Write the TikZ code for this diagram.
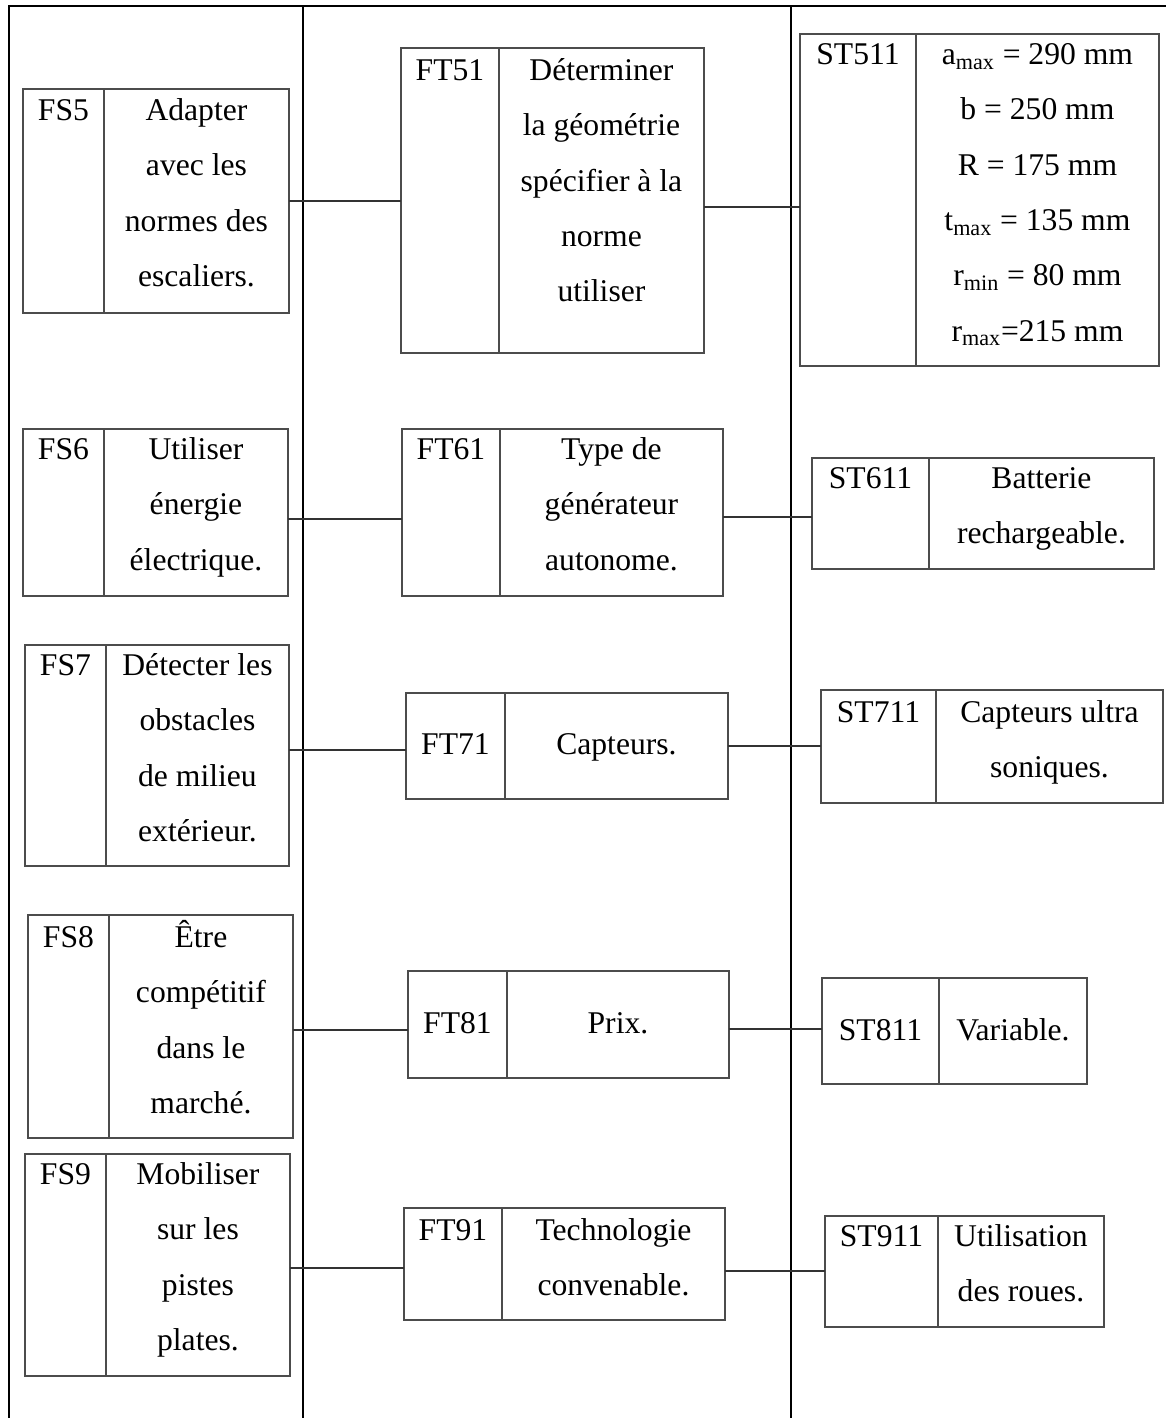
\documentclass[tikz,border=0pt]{standalone}
\usepackage{fontspec}
\setmainfont{Liberation Serif}
\usetikzlibrary{positioning}

\begin{document}
\begin{tikzpicture}[x=0.02cm,y=-0.02cm,
  cell/.style = {draw=black!70, line width=0.8pt, inner sep=0pt, outer sep=0pt},
  txt/.style = {anchor=north, align=center, inner sep=0pt,
    font=\fontsize{18}{31.5}\selectfont},
  frame/.style = {draw=black, line width=0.8pt},
  link/.style = {draw=black!80, line width=0.7pt}]
\useasboundingbox (0,0) rectangle (1166,1418);
% frame
\draw[frame,line width=1.2pt] (8,6) -- (1166,6);
\draw[frame,line width=1.2pt] (9,6) -- (9,1418);
\draw[frame] (303,7) -- (303,1418);
\draw[frame] (791,7) -- (791,1418);

% FS5 row
\node[cell,anchor=north west,minimum width=1.62cm,minimum height=4.48cm] (fs5a) at (23,89) {};
\node[cell,right=0pt of fs5a,minimum width=3.70cm,minimum height=4.48cm] (fs5b) {};
\node[txt] at ([yshift=0.15cm]fs5a.north) {\strut FS5};
\node[txt] at ([yshift=0.15cm]fs5b.north) {\strut Adapter\\avec les\\normes des\\escaliers.};
\node[cell,anchor=north west,minimum width=1.96cm,minimum height=6.10cm] (ft51a) at (401,48) {};
\node[cell,right=0pt of ft51a,minimum width=4.10cm,minimum height=6.10cm] (ft51b) {};
\node[txt] at ([yshift=0.13cm]ft51a.north) {\strut FT51};
\node[txt] at ([yshift=0.13cm]ft51b.north) {\strut Déterminer\\la géométrie\\spécifier à la\\norme\\utiliser};
\node[cell,anchor=north west,minimum width=2.32cm,minimum height=6.64cm] (st511a) at (800,34) {};
\node[cell,right=0pt of st511a,minimum width=4.86cm,minimum height=6.64cm] (st511b) {};
\node[txt] at ([yshift=0.17cm]st511a.north) {\strut ST511};
\node[txt] at ([yshift=0.17cm]st511b.north) {\strut a\textsubscript{max} = 290 mm\\b = 250 mm\\R = 175 mm\\t\textsubscript{max} = 135 mm\\r\textsubscript{min} = 80 mm\\r\textsubscript{max}=215 mm};
\draw[link] (fs5b.east) -- (fs5b.east -| ft51a.west);
\draw[link] ([yshift=-0.13cm]ft51b.east) -- ([yshift=-0.13cm]ft51b.east -| st511a.west);

% FS6 row
\node[cell,anchor=north west,minimum width=1.62cm,minimum height=3.34cm] (fs6a) at (23,429) {};
\node[cell,right=0pt of fs6a,minimum width=3.68cm,minimum height=3.34cm] (fs6b) {};
\node[txt] at ([yshift=0.17cm]fs6a.north) {\strut FS6};
\node[txt] at ([yshift=0.17cm]fs6b.north) {\strut Utiliser\\énergie\\électrique.};
\node[cell,anchor=north west,minimum width=1.96cm,minimum height=3.34cm] (ft61a) at (402,429) {};
\node[cell,right=0pt of ft61a,minimum width=4.46cm,minimum height=3.34cm] (ft61b) {};
\node[txt] at ([yshift=0.17cm]ft61a.north) {\strut FT61};
\node[txt] at ([yshift=0.17cm]ft61b.north) {\strut Type de\\générateur\\autonome.};
\node[cell,anchor=north west,minimum width=2.34cm,minimum height=2.22cm] (st611a) at (812,458) {};
\node[cell,right=0pt of st611a,minimum width=4.50cm,minimum height=2.22cm] (st611b) {};
\node[txt] at ([yshift=0.17cm]st611a.north) {\strut ST611};
\node[txt] at ([yshift=0.17cm]st611b.north) {\strut Batterie\\rechargeable.};
\draw[link] ([yshift=-0.13cm]fs6b.east) -- ([yshift=-0.13cm]fs6b.east -| ft61a.west);
\draw[link] ([yshift=-0.09cm]ft61b.east) -- ([yshift=-0.09cm]ft61b.east -| st611a.west);

% FS7 row
\node[cell,anchor=north west,minimum width=1.62cm,minimum height=4.42cm] (fs7a) at (25,645) {};
\node[cell,right=0pt of fs7a,minimum width=3.66cm,minimum height=4.42cm] (fs7b) {};
\node[txt] at ([yshift=0.17cm]fs7a.north) {\strut FS7};
\node[txt] at ([yshift=0.17cm]fs7b.north) {\strut Détecter les\\obstacles\\de milieu\\extérieur.};
\node[cell,anchor=north west,minimum width=1.98cm,minimum height=2.12cm] (ft71a) at (406,693) {};
\node[cell,right=0pt of ft71a,minimum width=4.46cm,minimum height=2.12cm] (ft71b) {};
\node[txt] at ([yshift=-0.45cm]ft71a.north) {\strut FT71};
\node[txt] at ([yshift=-0.45cm]ft71b.north) {\strut Capteurs.};
\node[cell,anchor=north west,minimum width=2.30cm,minimum height=2.26cm] (st711a) at (821,690) {};
\node[cell,right=0pt of st711a,minimum width=4.54cm,minimum height=2.26cm] (st711b) {};
\node[txt] at ([yshift=0.13cm]st711a.north) {\strut ST711};
\node[txt] at ([yshift=0.13cm]st711b.north) {\strut Capteurs ultra\\soniques.};
\draw[link] ([yshift=0.11cm]fs7b.east) -- ([yshift=0.11cm]fs7b.east -| ft71a.west);
\draw[link] (ft71b.east) -- (ft71b.east -| st711a.west);

% FS8 row
\node[cell,anchor=north west,minimum width=1.62cm,minimum height=4.46cm] (fs8a) at (28,915) {};
\node[cell,right=0pt of fs8a,minimum width=3.68cm,minimum height=4.46cm] (fs8b) {};
\node[txt] at ([yshift=0.13cm]fs8a.north) {\strut FS8};
\node[txt] at ([yshift=0.13cm]fs8b.north) {\strut Être\\compétitif\\dans le\\marché.};
\node[cell,anchor=north west,minimum width=1.98cm,minimum height=2.14cm] (ft81a) at (408,971) {};
\node[cell,right=0pt of ft81a,minimum width=4.44cm,minimum height=2.14cm] (ft81b) {};
\node[txt] at ([yshift=-0.47cm]ft81a.north) {\strut FT81};
\node[txt] at ([yshift=-0.47cm]ft81b.north) {\strut Prix.};
\node[cell,anchor=north west,minimum width=2.34cm,minimum height=2.12cm] (st811a) at (822,978) {};
\node[cell,right=0pt of st811a,minimum width=2.96cm,minimum height=2.12cm] (st811b) {};
\node[txt] at ([yshift=-0.47cm]st811a.north) {\strut ST811};
\node[txt] at ([yshift=-0.47cm]st811b.north) {\strut Variable.};
\draw[link] ([yshift=-0.07cm]fs8b.east) -- ([yshift=-0.07cm]fs8b.east -| ft81a.west);
\draw[link] ([yshift=-0.09cm]ft81b.east) -- ([yshift=-0.09cm]ft81b.east -| st811a.west);

% FS9 row
\node[cell,anchor=north west,minimum width=1.62cm,minimum height=4.44cm] (fs9a) at (25,1154) {};
\node[cell,right=0pt of fs9a,minimum width=3.68cm,minimum height=4.44cm] (fs9b) {};
\node[txt] at ([yshift=0.17cm]fs9a.north) {\strut FS9};
\node[txt] at ([yshift=0.17cm]fs9b.north) {\strut Mobiliser\\sur les\\pistes\\plates.};
\node[cell,anchor=north west,minimum width=1.96cm,minimum height=2.24cm] (ft91a) at (404,1208) {};
\node[cell,right=0pt of ft91a,minimum width=4.46cm,minimum height=2.24cm] (ft91b) {};
\node[txt] at ([yshift=0.13cm]ft91a.north) {\strut FT91};
\node[txt] at ([yshift=0.13cm]ft91b.north) {\strut Technologie\\convenable.};
\node[cell,anchor=north west,minimum width=2.26cm,minimum height=2.22cm] (st911a) at (825,1216) {};
\node[cell,right=0pt of st911a,minimum width=3.32cm,minimum height=2.22cm] (st911b) {};
\node[txt] at ([yshift=0.17cm]st911a.north) {\strut ST911};
\node[txt] at ([yshift=0.17cm]st911b.north) {\strut Utilisation\\des roues.};
\draw[link] ([yshift=-0.06cm]fs9b.east) -- ([yshift=-0.06cm]fs9b.east -| ft91a.west);
\draw[link] ([yshift=-0.14cm]ft91b.east) -- ([yshift=-0.14cm]ft91b.east -| st911a.west);
\end{tikzpicture}
\end{document}
